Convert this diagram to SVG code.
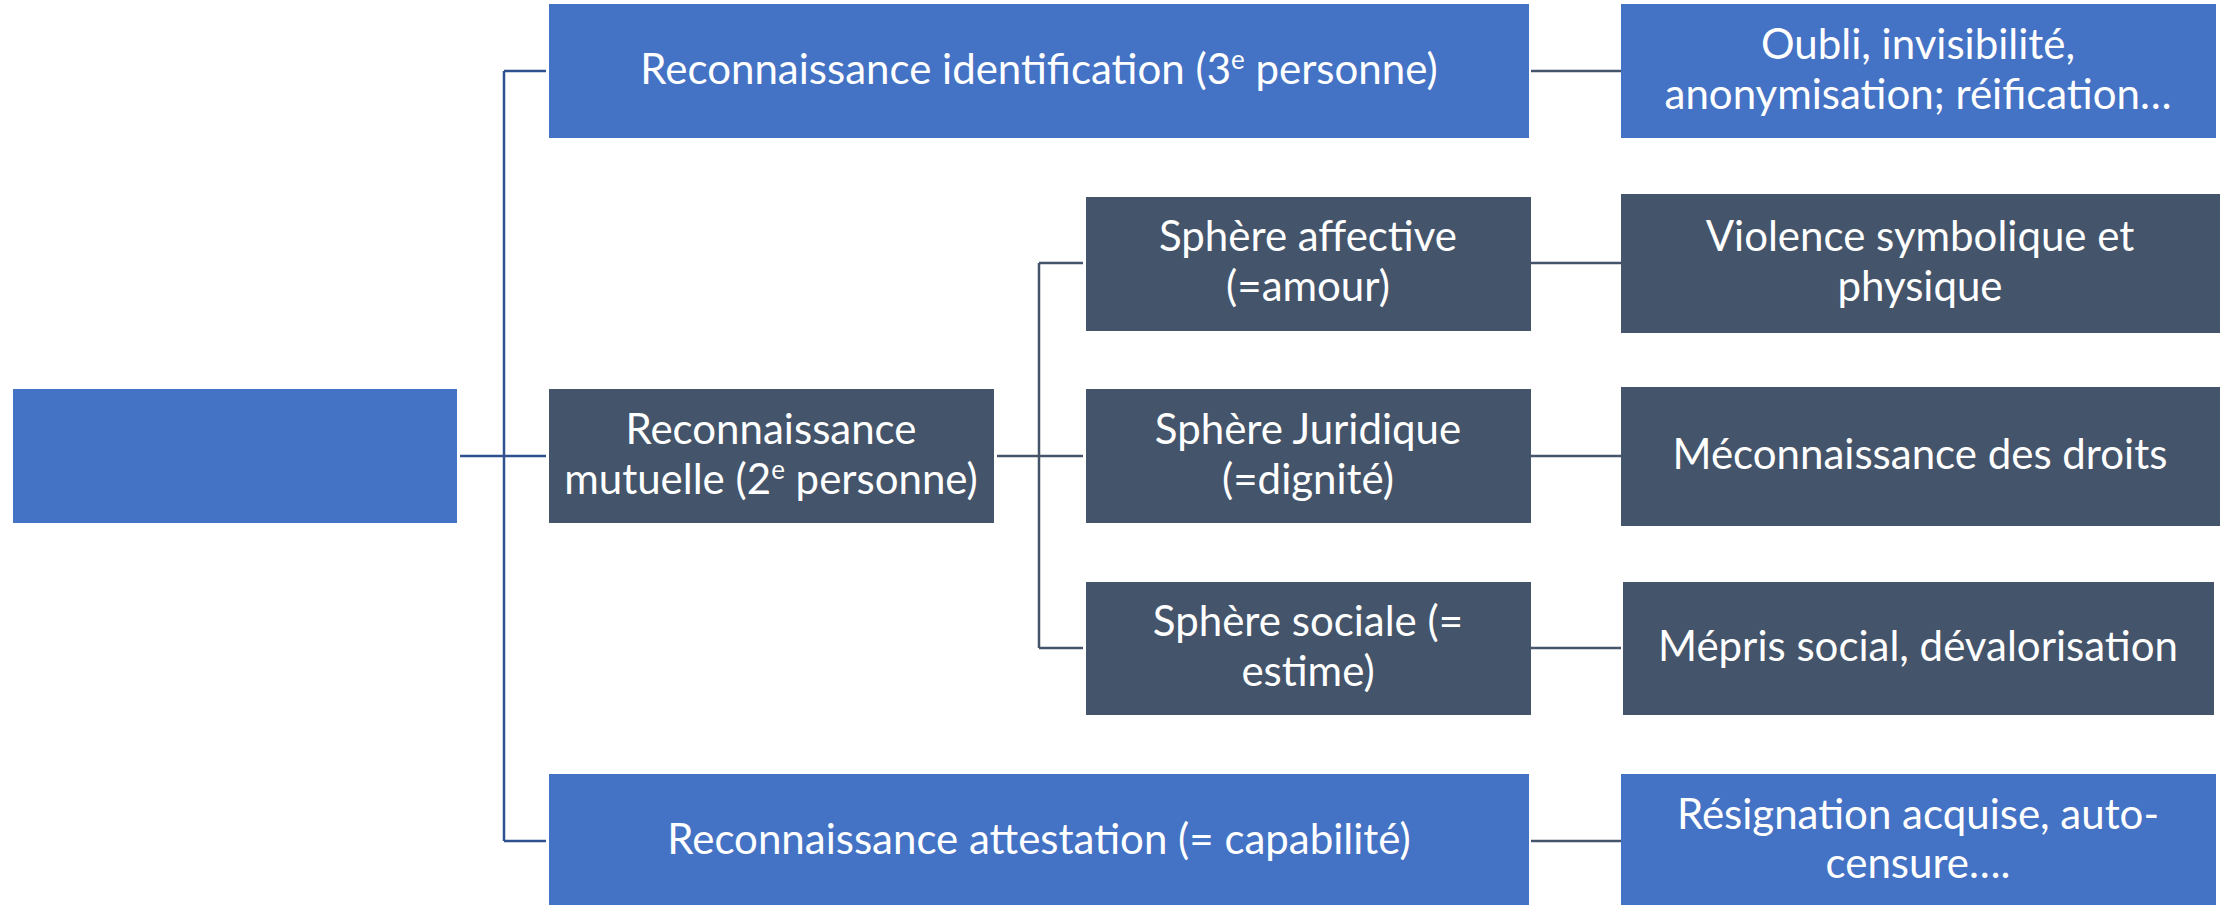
<svg xmlns="http://www.w3.org/2000/svg" width="2231" height="905" viewBox="0 0 2231 905">
<style>
.blue{fill:#4472C4;}
.dark{fill:#44546A;}
.t{font-family:Lato,"Open Sans",sans-serif;font-size:42px;fill:#ffffff;text-anchor:middle;}
.c1{stroke:#2F528F;stroke-width:2.5;fill:none;}
.c2{stroke:#44546A;stroke-width:2.5;fill:none;}
</style>
<rect width="2231" height="905" fill="#ffffff"/>
<g id="connectors">
<path class="c1" d="M460 456H546M504 71V841M504 71H546M504 841H546"/>
<path class="c2" d="M997 456H1083M1039 263V648M1039 263H1083M1039 648H1083"/>
<path class="c2" d="M1531 71H1621M1531 263H1621M1531 456H1621M1531 648H1621M1531 841H1621"/>
</g>
<g id="root"><rect class="blue" x="13" y="389" width="444" height="134"/></g>
<g id="identification"><rect class="blue" x="549" y="4" width="980" height="134"/>
<text class="t" x="1039" y="84">Reconnaissance identification (3<tspan dy="-15" font-size="26">e</tspan><tspan dy="15"> personne)</tspan></text></g>
<g id="oubli"><rect class="blue" x="1621" y="4" width="595" height="134"/>
<text class="t" x="1918" y="59">Oubli, invisibilité,</text>
<text class="t" x="1918" y="109">anonymisation; réification…</text></g>
<g id="mutuelle"><rect class="dark" x="549" y="389" width="445" height="134"/>
<text class="t" x="771" y="444">Reconnaissance</text>
<text class="t" x="771" y="494">mutuelle (2<tspan dy="-15" font-size="26">e</tspan><tspan dy="15"> personne)</tspan></text></g>
<g id="affective"><rect class="dark" x="1086" y="197" width="445" height="134"/>
<text class="t" x="1308" y="251">Sphère affective</text>
<text class="t" x="1308" y="301">(=amour)</text></g>
<g id="violence"><rect class="dark" x="1621" y="194" width="599" height="139"/>
<text class="t" x="1920" y="251">Violence symbolique et</text>
<text class="t" x="1920" y="301">physique</text></g>
<g id="juridique"><rect class="dark" x="1086" y="389" width="445" height="134"/>
<text class="t" x="1308" y="444">Sphère Juridique</text>
<text class="t" x="1308" y="494">(=dignité)</text></g>
<g id="meconnaissance"><rect class="dark" x="1621" y="387" width="599" height="139"/>
<text class="t" x="1920" y="469">Méconnaissance des droits</text></g>
<g id="sociale"><rect class="dark" x="1086" y="582" width="445" height="133"/>
<text class="t" x="1308" y="636">Sphère sociale (=</text>
<text class="t" x="1308" y="686">estime)</text></g>
<g id="mepris"><rect class="dark" x="1623" y="582" width="591" height="133"/>
<text class="t" x="1918" y="661">Mépris social, dévalorisation</text></g>
<g id="attestation"><rect class="blue" x="549" y="774" width="980" height="134"/>
<text class="t" x="1039" y="854">Reconnaissance attestation (= capabilité)</text></g>
<g id="resignation"><rect class="blue" x="1621" y="774" width="595" height="134"/>
<text class="t" x="1918" y="829">Résignation acquise, auto-</text>
<text class="t" x="1918" y="878">censure….</text></g>
</svg>
